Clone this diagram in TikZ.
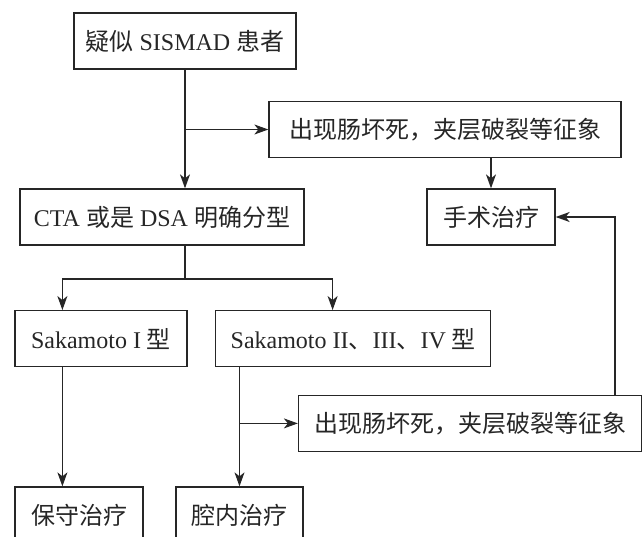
\documentclass[tikz,border=0pt]{standalone}
\usepackage{fontspec}
\setmainfont{Liberation Serif}
\newfontfamily\cjk{Noto Sans CJK SC}
\usetikzlibrary{arrows.meta}
\newcommand{\zh}[1]{{\cjk #1}}

\begin{document}
\begin{tikzpicture}[x=1pt, y=-1pt, line width=1.3pt, color={black!85},
	box/.style = {draw, minimum height=56pt, inner sep=0pt, font=\fontsize{24}{28}\selectfont},
	arr/.style = {-{Stealth[length=14pt,width=10pt,inset=4pt]}}]
	\useasboundingbox (0,0) rectangle (643,536);
	\clip (0,0) rectangle (643,536);
	% boxes
	\node[box, minimum width=222pt] (susp) at (185,41) {\zh{疑似} SISMAD \zh{患者}};
	\node[box, minimum width=352pt] (signa) at (445,129.5) {\zh{出现肠坏死，夹层破裂等征象}};
	\node[box, minimum width=284pt] (cta) at (162,217) {CTA \zh{或是} DSA \zh{明确分型}};
	\node[box, minimum width=128pt] (surg) at (491,217) {\zh{手术治疗}};
	\node[box, minimum width=172pt] (typei) at (101,338.7) {Sakamoto I \zh{型}};
	\node[box, minimum width=275pt] (typeii) at (353.3,338.7) {Sakamoto II\zh{、}III\zh{、}IV \zh{型}};
	\node[box, minimum width=343pt] (signb) at (470,423.4) {\zh{出现肠坏死，夹层破裂等征象}};
	\node[box, minimum width=128pt] (cons) at (79,515) {\zh{保守治疗}};
	\node[box, minimum width=127pt] (endo) at (239.5,515) {\zh{腔内治疗}};
	% connectors
	\coordinate (split) at (185,279);
	\coordinate (lefta) at (62.4,279);
	\coordinate (righta) at (332.6,279);
	\coordinate (back) at (615,0);
	\draw[arr] (susp.south -| split) -- (cta.north -| split);
	\draw[arr] (split |- signa.west) -- (signa.west);
	\draw[arr] (surg.north |- signa.south) -- (surg.north);
	\draw (cta.south -| split) -- (split);
	\draw (lefta) -- (righta);
	\draw[arr] (lefta) -- (lefta |- typei.north);
	\draw[arr] (righta) -- (righta |- typeii.north);
	\draw[arr] (typei.south -| lefta) -- (cons.north -| lefta);
	\draw[arr] (typeii.south -| endo.north) -- (endo.north);
	\draw[arr] (endo.north |- signb.west) -- (signb.west);
	\draw[arr] (signb.north -| back) |- (surg.east);
\end{tikzpicture}
\end{document}
